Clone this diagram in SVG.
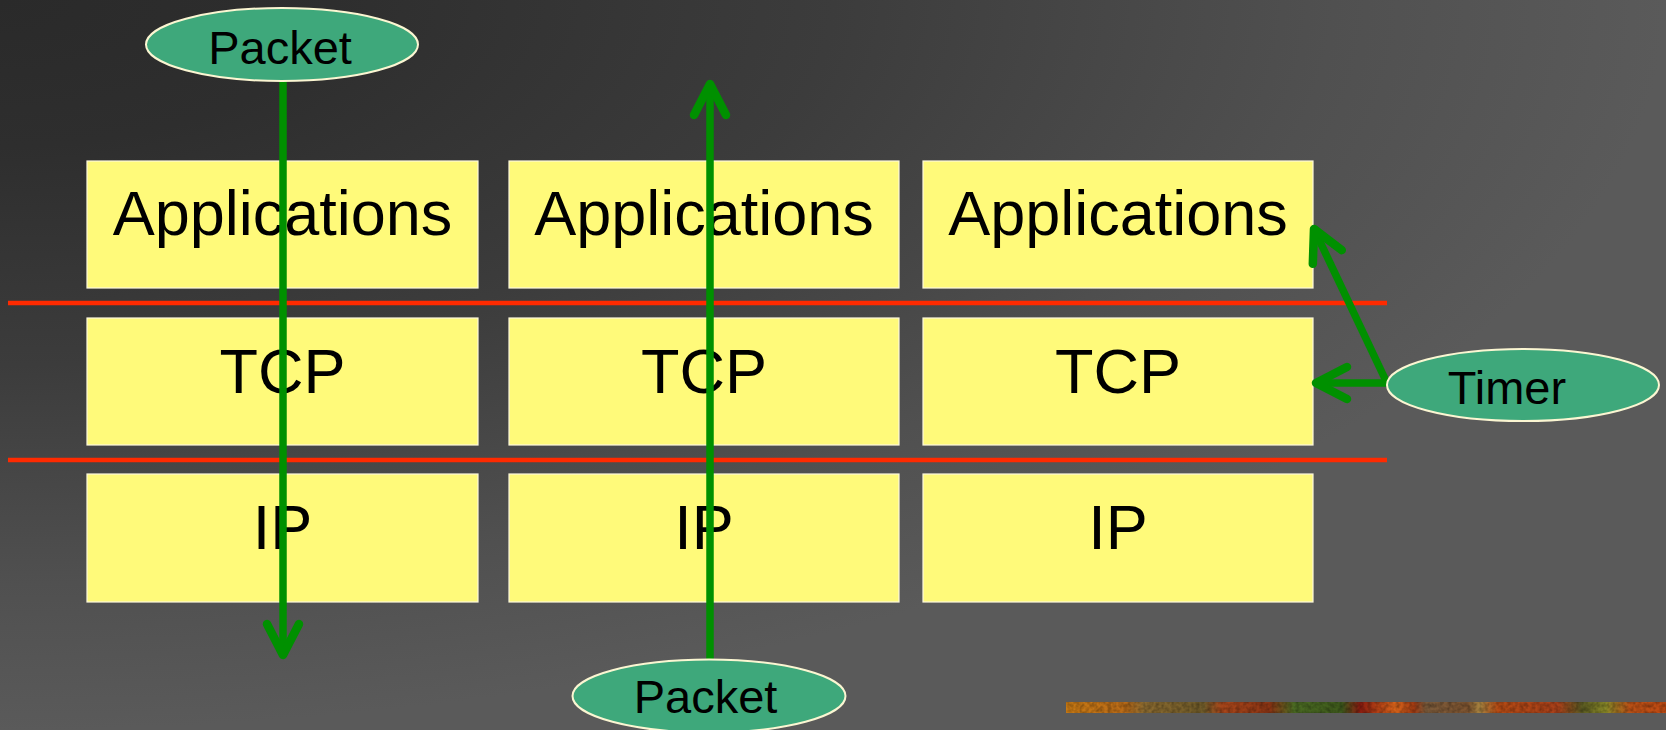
<svg xmlns="http://www.w3.org/2000/svg" width="1666" height="730" viewBox="0 0 1666 730">
  <defs>
    <radialGradient id="bg" cx="0" cy="0" r="1" gradientUnits="objectBoundingBox">
      <stop offset="0" stop-color="#2a2a2a"/>
      <stop offset="0.2" stop-color="#2e2e2e"/>
      <stop offset="0.5" stop-color="#3c3c3c"/>
      <stop offset="0.8" stop-color="#505050"/>
      <stop offset="1" stop-color="#5a5a5a"/>
    </radialGradient>
    <linearGradient id="strip" x1="1066" y1="0" x2="1666" y2="0" gradientUnits="userSpaceOnUse">
      <stop offset="0" stop-color="#c87a14"/>
      <stop offset="0.1" stop-color="#b86a18"/>
      <stop offset="0.13" stop-color="#8a6a30"/>
      <stop offset="0.23" stop-color="#6e5a28"/>
      <stop offset="0.26" stop-color="#a8461a"/>
      <stop offset="0.34" stop-color="#8a3414"/>
      <stop offset="0.38" stop-color="#4a6a22"/>
      <stop offset="0.46" stop-color="#3e5a1c"/>
      <stop offset="0.49" stop-color="#8a1c10"/>
      <stop offset="0.55" stop-color="#d8641a"/>
      <stop offset="0.58" stop-color="#a03a12"/>
      <stop offset="0.6" stop-color="#7a5a3a"/>
      <stop offset="0.67" stop-color="#7e5430"/>
      <stop offset="0.69" stop-color="#a88440"/>
      <stop offset="0.72" stop-color="#b44a14"/>
      <stop offset="0.82" stop-color="#a8401a"/>
      <stop offset="0.86" stop-color="#5a5a22"/>
      <stop offset="0.9" stop-color="#8a8a28"/>
      <stop offset="0.94" stop-color="#b85016"/>
      <stop offset="1" stop-color="#c04a12"/>
    </linearGradient>
    <!-- mottled grain for the decorative band -->
    <filter id="grain" x="0" y="0" width="1" height="1">
      <feTurbulence type="fractalNoise" baseFrequency="0.25" numOctaves="2" seed="7" result="noise"/>
      <feColorMatrix in="noise" type="matrix" values="0 0 0 0 0  0 0 0 0 0  0 0 0 0 0  0 0 0 -1.6 1.1" result="shade"/>
      <feComposite in="shade" in2="SourceGraphic" operator="in"/>
    </filter>
    <marker id="vhead" viewBox="-40 -22 46 44" refX="0" refY="0" markerWidth="46" markerHeight="44" markerUnits="userSpaceOnUse" orient="auto">
      <path d="M-31,-16 L0,0 L-31,16" fill="none" stroke="#009000" stroke-width="8.5" stroke-linecap="round" stroke-linejoin="round"/>
    </marker>
  </defs>
  <style>
    .box { fill: #fffa7a; stroke: #fdf8dc; stroke-width: 1.2; }
    .boxlabel { font-family: "Liberation Sans", Arial, sans-serif; font-size: 63px; fill: #000; text-anchor: middle; }
    .oval { fill: #3ea87b; stroke: #fbf6d2; stroke-width: 2; }
    .ovallabel { font-family: "Liberation Sans", Arial, sans-serif; font-size: 47px; fill: #000; text-anchor: middle; }
    .divider { stroke: #ff2a00; stroke-width: 4.5; }
    .flow { fill: none; stroke: #009000; stroke-width: 7.5; marker-end: url(#vhead); }
  </style>

  <!-- backdrop -->
  <rect x="0" y="0" width="1666" height="730" fill="url(#bg)"/>
  <rect x="1066" y="702" width="600" height="11" fill="url(#strip)"/>
  <rect x="1066" y="702" width="600" height="11" fill="#000" opacity="0.35" filter="url(#grain)"/>

  <!-- layer boundaries -->
  <g id="dividers">
    <line class="divider" x1="8" y1="303" x2="1387" y2="303"/>
    <line class="divider" x1="8" y1="460" x2="1387" y2="460"/>
  </g>

  <!-- host stack 1 -->
  <g id="app-1"><rect class="box" x="87" y="161" width="391" height="127"/><text class="boxlabel" x="282.5" y="235">Applications</text></g>
  <g id="tcp-1"><rect class="box" x="87" y="318" width="391" height="127"/><text class="boxlabel" x="282.5" y="393">TCP</text></g>
  <g id="ip-1"><rect class="box" x="87" y="474" width="391" height="128"/><text class="boxlabel" x="282.5" y="549">IP</text></g>

  <!-- host stack 2 -->
  <g id="app-2"><rect class="box" x="509" y="161" width="390" height="127"/><text class="boxlabel" x="704" y="235">Applications</text></g>
  <g id="tcp-2"><rect class="box" x="509" y="318" width="390" height="127"/><text class="boxlabel" x="704" y="393">TCP</text></g>
  <g id="ip-2"><rect class="box" x="509" y="474" width="390" height="128"/><text class="boxlabel" x="704" y="549">IP</text></g>

  <!-- host stack 3 -->
  <g id="app-3"><rect class="box" x="923" y="161" width="390" height="127"/><text class="boxlabel" x="1118" y="235">Applications</text></g>
  <g id="tcp-3"><rect class="box" x="923" y="318" width="390" height="127"/><text class="boxlabel" x="1118" y="393">TCP</text></g>
  <g id="ip-3"><rect class="box" x="923" y="474" width="390" height="128"/><text class="boxlabel" x="1118" y="549">IP</text></g>

  <!-- event flows -->
  <g id="connectors">
    <path class="flow" d="M283,80 V655"/>
    <path class="flow" d="M710,660 V84"/>
    <path class="flow" d="M1387,383 H1316"/>
    <path class="flow" d="M1387,383 L1314,229"/>
  </g>

  <!-- event sources -->
  <g id="packet-in">
    <ellipse class="oval" cx="282" cy="44.5" rx="136" ry="36.5"/>
    <text class="ovallabel" x="280" y="64">Packet</text>
  </g>
  <g id="packet-out">
    <ellipse class="oval" cx="709" cy="696" rx="136.5" ry="36.5"/>
    <text class="ovallabel" x="705.5" y="713">Packet</text>
  </g>
  <g id="timer">
    <ellipse class="oval" cx="1523" cy="385" rx="136" ry="36"/>
    <text class="ovallabel" x="1507" y="404">Timer</text>
  </g>
</svg>
